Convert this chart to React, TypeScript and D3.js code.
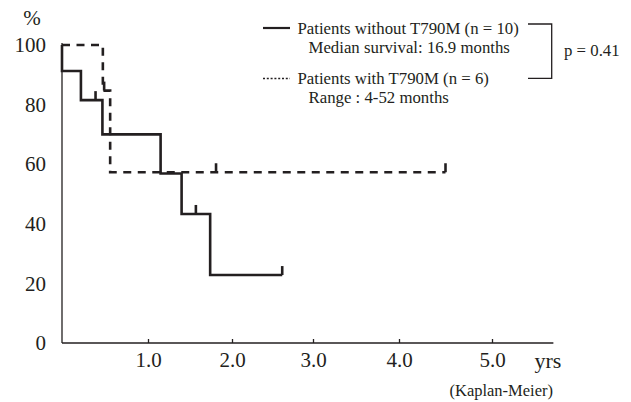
import React, { useEffect, useRef } from 'react';
import * as d3 from 'd3';

// time in years, survival in %
const withoutTimes = [0, 0, 0.22, 0.47, 1.15, 1.4, 1.74, 2.62];
const withoutSurv = [100, 91.3, 81.5, 70.0, 56.9, 43.3, 22.8, 22.8];
const withoutCensored = [0.39, 1.57, 2.62];

const withTimes = [0, 0.475, 0.56, 4.5];
const withSurv = [100, 84.7, 57.3, 57.3];
const withCensored = [0.49, 1.81, 4.5];

const xTicks = [1, 2, 3, 4, 5];
const yTicks = [0, 20, 40, 60, 80, 100];

const legendWithout = ['Patients without T790M (n = 10)', 'Median survival: 16.9 months'];
const legendWith = ['Patients with T790M (n = 6)', 'Range : 4-52 months'];
const pValue = 'p = 0.41';

const INK = '#231f20';
const FONT = '"Liberation Serif", "Times New Roman", serif';

export default function App() {
    const ref = useRef<SVGSVGElement>(null);

    useEffect(() => {
        document.body.style.margin = '0';
        const svg = d3.select(ref.current);
        svg.selectAll('*').remove();

        // the printed axis is hand drawn, tick spacing is a bit uneven
        const x = d3.scaleLinear().domain([0, 1, 2, 3, 4, 5]).range([62, 148, 232, 313, 399, 492]);
        const y = d3.scaleLinear().domain([0, 100]).range([343, 45]);

        const g = svg.append('g').attr('font-family', FONT).attr('fill', INK);

        // axes
        g.append('line')
            .attr('x1', x(0)).attr('x2', x(5.66))
            .attr('y1', y(0)).attr('y2', y(0))
            .attr('stroke', INK).attr('stroke-width', 1.5);
        g.append('line')
            .attr('x1', x(0)).attr('x2', x(0))
            .attr('y1', y(0)).attr('y2', y(100) - 2)
            .attr('stroke', INK).attr('stroke-width', 1.3);

        const xAxis = g.append('g')
            .attr('transform', 'translate(0,' + y(0) + ')')
            .call(d3.axisBottom(x).tickValues(xTicks).tickSize(-4).tickPadding(9).tickFormat(d3.format('.1f')));
        xAxis.select('.domain').remove();
        xAxis.selectAll('line').attr('stroke', INK).attr('stroke-width', 1.3);
        xAxis.selectAll('text').attr('font-size', 21).attr('font-family', FONT).attr('fill', INK);

        const yAxis = g.append('g')
            .attr('transform', 'translate(' + x(0) + ',0)')
            .call(d3.axisLeft(y).tickValues(yTicks).tickSize(0).tickPadding(16).tickFormat(d3.format('d')));
        yAxis.select('.domain').remove();
        yAxis.selectAll('text').attr('font-size', 21).attr('font-family', FONT).attr('fill', INK);

        g.append('text').attr('x', 32).attr('y', 25).attr('text-anchor', 'middle')
            .attr('font-size', 21).text('%');
        g.append('text').attr('x', 548).attr('y', 368).attr('text-anchor', 'middle')
            .attr('font-size', 22).text('yrs');
        g.append('text').attr('x', 553).attr('y', 396).attr('text-anchor', 'end')
            .attr('font-size', 16.5).text('(Kaplan-Meier)');

        // curves
        const line = d3.line<[number, number]>()
            .x(d => x(d[0]))
            .y(d => y(d[1]))
            .curve(d3.curveStepAfter);

        const survAt = (times: number[], surv: number[], t: number) => {
            const i = d3.bisectRight(times, t) - 1;
            return surv[Math.max(i, 0)];
        };

        const drawCurve = (times: number[], surv: number[], censored: number[], dash: string | null) => {
            const pts = times.map((t, i) => [t, surv[i]] as [number, number]);
            g.append('path')
                .attr('d', line(pts))
                .attr('fill', 'none')
                .attr('stroke', INK)
                .attr('stroke-width', 2.6)
                .attr('stroke-dasharray', dash);
            g.selectAll(null)
                .data(censored)
                .enter()
                .append('line')
                .attr('x1', d => x(d)).attr('x2', d => x(d))
                .attr('y1', d => y(survAt(times, surv, d)))
                .attr('y2', d => y(survAt(times, surv, d)) - 9)
                .attr('stroke', INK)
                .attr('stroke-width', 2.6);
        };

        drawCurve(withTimes, withSurv, withCensored, '8,6.5');
        drawCurve(withoutTimes, withoutSurv, withoutCensored, null);

        // legend
        const legend = g.append('g').attr('font-size', 16.8);
        legend.append('line')
            .attr('x1', 263).attr('x2', 290).attr('y1', 28).attr('y2', 28)
            .attr('stroke', INK).attr('stroke-width', 2.2);
        legend.append('line')
            .attr('x1', 263).attr('x2', 290).attr('y1', 78.5).attr('y2', 78.5)
            .attr('stroke', INK).attr('stroke-width', 1.5).attr('stroke-dasharray', '2,1.8');
        legend.append('text').attr('x', 297.5).attr('y', 33.5).text(legendWithout[0]);
        legend.append('text').attr('x', 308.5).attr('y', 52.5).text(legendWithout[1]);
        legend.append('text').attr('x', 297.5).attr('y', 84).text(legendWith[0]);
        legend.append('text').attr('x', 308.5).attr('y', 103).text(legendWith[1]);

        legend.append('path')
            .attr('d', 'M528,24H551.7V78.3H528')
            .attr('fill', 'none')
            .attr('stroke', INK)
            .attr('stroke-width', 1.3);
        legend.append('text').attr('x', 564).attr('y', 55.5).text(pValue);
    }, []);

    return <svg ref={ref} width={631} height={402} style={{ display: 'block', background: '#fff' }} />;
}
